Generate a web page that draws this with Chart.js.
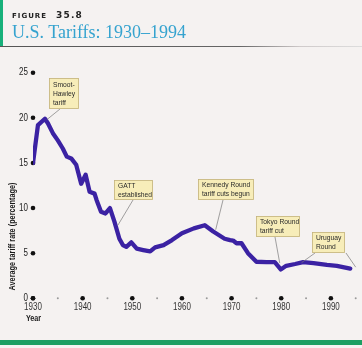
<!DOCTYPE html>
<html><head><meta charset="utf-8">
<script src="https://cdn.jsdelivr.net/npm/chart.js@4.4.1/dist/chart.umd.min.js"></script>
<style>
html,body{margin:0;padding:0;background:#f5f2f1;}
#wrap{position:relative;width:362px;height:348px;overflow:hidden;background:#f5f2f1;}
canvas{position:absolute;left:0;top:0;}
.bar{position:absolute;left:0;top:0;width:3px;height:47px;background:#17b07a;}
.rule{position:absolute;left:0;top:46px;width:362px;height:1px;background:linear-gradient(to right,#555 0,#666 240px,#cfcaca 300px,#ddd 362px);}
.fig{position:absolute;left:12px;top:10px;font:bold 7px 'DejaVu Sans',sans-serif;letter-spacing:1px;color:#222;white-space:nowrap;}
.fig b{font-size:9px;margin-left:9px;letter-spacing:1.2px;}
.title{position:absolute;left:12px;top:22px;font:18px 'Liberation Serif',serif;color:#35a3cf;white-space:nowrap;}
.bottom{position:absolute;left:0;top:340px;width:362px;height:5px;background:#1c9f63;}
</style></head>
<body>
<div id="wrap">
<canvas id="c" width="362" height="348"></canvas>
<div class="bar"></div>
<div class="rule"></div>
<div class="fig">FIGURE<b>35.8</b></div>
<div class="title">U.S. Tariffs: 1930–1994</div>
<div class="bottom"></div>
</div>
<script>
// Data
const years = [1930, 1931, 1932.4, 1933, 1934, 1935, 1936, 1936.8, 1937.7, 1938.7, 1939.7, 1940.6, 1941.4, 1942.4, 1942.8, 1943.7, 1944.6, 1945.5, 1946.4, 1947.4, 1948.1, 1948.8, 1949.8, 1950.9, 1952.2, 1953.6, 1954.6, 1956.3, 1958, 1960, 1962.4, 1964.6, 1966.3, 1968.6, 1969.7, 1970.3, 1971, 1972, 1973.3, 1975, 1977, 1978.7, 1979.9, 1981, 1982.8, 1984.4, 1986.5, 1989.2, 1991.2, 1993.9];
const tariffRate = [15.0, 19.2, 19.9, 19.4, 18.3, 17.5, 16.6, 15.7, 15.5, 14.8, 12.7, 13.7, 11.8, 11.6, 10.9, 9.6, 9.4, 10.0, 8.5, 6.6, 5.9, 5.7, 6.2, 5.5, 5.35, 5.2, 5.65, 5.9, 6.45, 7.2, 7.75, 8.1, 7.4, 6.6, 6.45, 6.4, 6.1, 6.1, 5.0, 4.05, 4.0, 4.0, 3.2, 3.6, 3.8, 4.0, 3.9, 3.7, 3.6, 3.3];
const yTicks = [0, 5, 10, 15, 20, 25];
const xTickLabels = [1930, 1940, 1950, 1960, 1970, 1980, 1990];
const noteTexts = [
  ['Smoot-', 'Hawley', 'tariff'],
  ['GATT', 'established'],
  ['Kennedy Round', 'tariff cuts begun'],
  ['Tokyo Round', 'tariff cut'],
  ['Uruguay', 'Round']
];
const noteTargets = [
  [[1932.8, 19.8]],
  [[1947.1, 8.1]],
  [[1966.8, 7.6]],
  [[1979.7, 3.9]],
  [[1984.1, 3.95], [1995, 3.45]]
];
// Layout of the note boxes (pixels): x, y, w, h, and leader start points
const noteBoxes = [
  {x: 49, y: 78, w: 30, h: 31, from: [[60, 109]]},
  {x: 114, y: 180, w: 39, h: 20, from: [[133, 200]]},
  {x: 198, y: 179, w: 56, h: 21, from: [[223, 200]]},
  {x: 256, y: 216, w: 44, h: 21, from: [[275, 237]]},
  {x: 312, y: 232, w: 33, h: 21, from: [[315, 253], [346, 253]]}
];

const FONT = "'Liberation Sans', 'Arimo', sans-serif";

function squeezeText(ctx, text, x, y, sx) {
  ctx.save();
  ctx.translate(x, y);
  ctx.scale(sx, 1);
  ctx.fillText(text, 0, 0);
  ctx.restore();
}

const decor = {
  id: 'decor',
  beforeDatasetsDraw(chart) {
    const {ctx, scales: {x, y}} = chart;
    ctx.save();
    const y0 = y.getPixelForValue(0);
    const x0 = x.getPixelForValue(1930);
    x.ticks.forEach(t => {
      const px = x.getPixelForValue(t.value);
      const major = xTickLabels.includes(t.value);
      ctx.beginPath();
      ctx.fillStyle = major ? '#111' : '#9a9a9a';
      ctx.arc(px, y0, major ? 2.3 : 1.0, 0, Math.PI * 2);
      ctx.fill();
      if (major) {
        ctx.fillStyle = '#333';
        ctx.font = "10px " + FONT;
        ctx.textAlign = 'center';
        ctx.textBaseline = 'middle';
        squeezeText(ctx, String(t.value), px, y0 + 9, 0.8);
      }
    });
    y.ticks.forEach(t => {
      const py = y.getPixelForValue(t.value);
      ctx.beginPath();
      ctx.fillStyle = '#111';
      ctx.arc(x0, py, 2.3, 0, Math.PI * 2);
      ctx.fill();
      ctx.fillStyle = '#222';
      ctx.font = "10px " + FONT;
      ctx.textAlign = 'right';
      ctx.textBaseline = 'middle';
      squeezeText(ctx, String(t.value), 28, py, 0.8);
    });
    // axis titles
    ctx.fillStyle = '#1a1a1a';
    ctx.font = "bold 9px " + FONT;
    ctx.textAlign = 'center';
    ctx.textBaseline = 'middle';
    squeezeText(ctx, 'Year', 33.5, 318.5, 0.8);
    ctx.translate(12.5, 236.5);
    ctx.rotate(-Math.PI / 2);
    squeezeText(ctx, 'Average tariff rate (percentage)', 0, 0, 0.81);
    ctx.restore();
  },
  afterDatasetsDraw(chart) {
    const {ctx, scales: {x, y}} = chart;
    ctx.save();
    noteBoxes.forEach((b, i) => {
      ctx.strokeStyle = '#7a7a7a';
      ctx.lineWidth = 0.7;
      b.from.forEach((f, j) => {
        const tgt = noteTargets[i][j];
        ctx.beginPath();
        ctx.moveTo(f[0], f[1]);
        ctx.lineTo(x.getPixelForValue(tgt[0]), y.getPixelForValue(tgt[1]));
        ctx.stroke();
      });
      ctx.fillStyle = '#f7edb9';
      ctx.fillRect(b.x, b.y, b.w, b.h);
      ctx.strokeStyle = '#c2b27e';
      ctx.lineWidth = 0.8;
      ctx.strokeRect(b.x + 0.5, b.y + 0.5, b.w - 1, b.h - 1);
      ctx.fillStyle = '#2a2a2a';
      ctx.font = "8px " + FONT;
      ctx.textAlign = 'left';
      ctx.textBaseline = 'middle';
      const lines = noteTexts[i];
      const lh = 8.8;
      const top = b.y + b.h / 2 - (lines.length - 1) * lh / 2;
      lines.forEach((l, k) => squeezeText(ctx, l, b.x + 4, top + k * lh, 0.84));
    });
    ctx.restore();
  }
};

new Chart(document.getElementById('c'), {
  type: 'line',
  data: {
    datasets: [{
      data: years.map((yr, i) => ({x: yr, y: tariffRate[i]})),
      borderColor: '#3b22a3',
      borderWidth: 4.3,
      pointRadius: 0,
      tension: 0,
      borderJoinStyle: 'round',
      borderCapStyle: 'round',
      fill: false
    }]
  },
  options: {
    responsive: false,
    animation: false,
    events: [],
    layout: {padding: {top: 72.7, right: 6.3, bottom: 29.7, left: 0}},
    plugins: {legend: {display: false}, tooltip: {enabled: false}},
    scales: {
      x: {
        type: 'linear', min: 1930, max: 1995,
        grid: {display: false, drawTicks: false},
        border: {display: false},
        afterFit: s => { s.height = 20; },
        afterBuildTicks: s => { s.ticks = []; for (let v = 1930; v <= 1995; v += 5) s.ticks.push({value: v}); },
        ticks: {display: false}
      },
      y: {
        min: 0, max: 25,
        grid: {display: false, drawTicks: false},
        border: {display: false},
        afterFit: s => { s.width = 33; },
        afterBuildTicks: s => { s.ticks = yTicks.map(v => ({value: v})); },
        ticks: {display: false}
      }
    }
  },
  plugins: [decor]
});
</script>
</body></html>
